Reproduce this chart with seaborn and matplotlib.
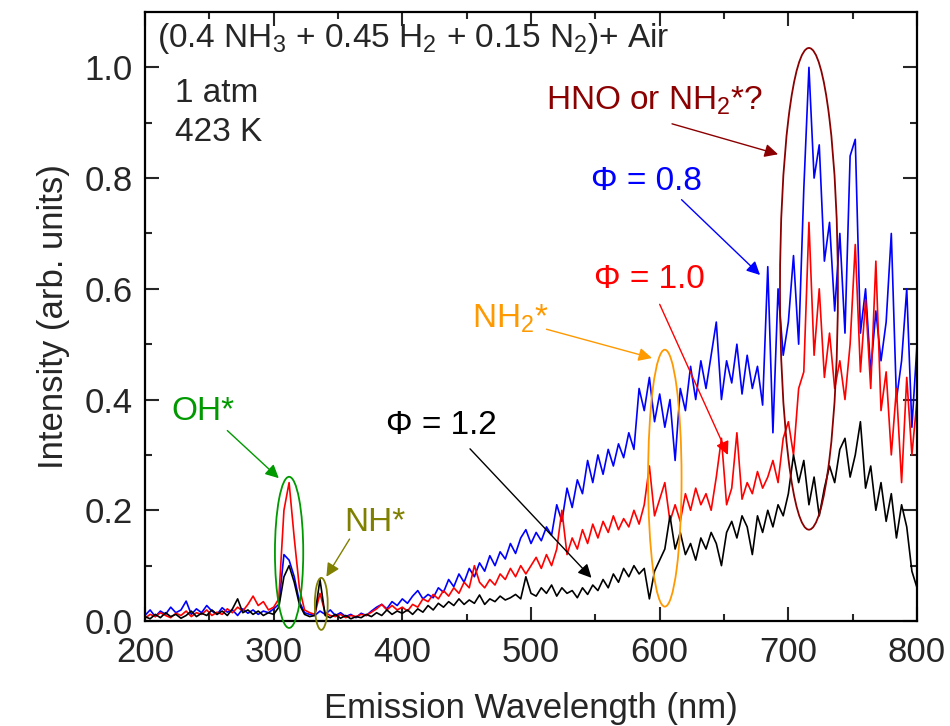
import numpy as np
import pandas as pd
import seaborn as sns
import matplotlib.pyplot as plt
from matplotlib.patches import Ellipse

# wavelength grid (nm), one sample every 4 nm
wavelength = np.arange(200, 801, 4)

# Phi = 0.8 (blue)
phi_08 = [
    0.010, 0.020, 0.008, 0.018, 0.012, 0.025, 0.015, 0.020, 0.036, 0.012,
    0.022, 0.015, 0.028, 0.018, 0.012, 0.024, 0.016, 0.020, 0.010, 0.022,
    0.014, 0.020, 0.012, 0.018, 0.015, 0.022, 0.030, 0.120, 0.110, 0.080,
    0.035, 0.015, 0.012, 0.010, 0.018, 0.012, 0.020, 0.010, 0.015, 0.008,
    0.012, 0.006, 0.014, 0.010, 0.018, 0.025, 0.030, 0.022, 0.035, 0.028,
    0.040, 0.032, 0.045, 0.055, 0.040, 0.048, 0.042, 0.060, 0.052, 0.075,
    0.062, 0.085, 0.070, 0.095, 0.080, 0.105, 0.090, 0.118, 0.100, 0.125,
    0.112, 0.140, 0.122, 0.150, 0.165, 0.140, 0.160, 0.145, 0.170, 0.155,
    0.210, 0.180, 0.240, 0.205, 0.255, 0.230, 0.290, 0.250, 0.300, 0.265,
    0.310, 0.280, 0.320, 0.295, 0.340, 0.310, 0.420, 0.380, 0.440, 0.360,
    0.410, 0.350, 0.400, 0.290, 0.420, 0.380, 0.460, 0.400, 0.470, 0.420,
    0.480, 0.540, 0.400, 0.470, 0.430, 0.500, 0.410, 0.480, 0.420, 0.460,
    0.390, 0.640, 0.340, 0.600, 0.480, 0.540, 0.660, 0.500, 0.780, 1.000,
    0.800, 0.860, 0.650, 0.720, 0.560, 0.700, 0.520, 0.840, 0.870, 0.520,
    0.600, 0.450, 0.560, 0.470, 0.540, 0.700, 0.400, 0.470, 0.600, 0.350,
    0.500,
]

# Phi = 1.0 (red)
phi_10 = [
    0.005, 0.012, 0.008, 0.015, 0.010, 0.006, 0.014, 0.010, 0.018, 0.008,
    0.015, 0.012, 0.020, 0.010, 0.016, 0.012, 0.022, 0.015, 0.025, 0.018,
    0.030, 0.045, 0.028, 0.035, 0.020, 0.025, 0.040, 0.200, 0.250, 0.150,
    0.060, 0.020, 0.015, 0.012, 0.050, 0.015, 0.010, 0.008, 0.012, 0.006,
    0.010, 0.008, 0.012, 0.010, 0.016, 0.022, 0.030, 0.020, 0.028, 0.020,
    0.025, 0.018, 0.030, 0.025, 0.040, 0.035, 0.048, 0.040, 0.055, 0.045,
    0.060, 0.050, 0.070, 0.060, 0.100, 0.070, 0.060, 0.075, 0.065, 0.085,
    0.075, 0.095, 0.080, 0.100, 0.085, 0.100, 0.115, 0.095, 0.120, 0.100,
    0.130, 0.200, 0.120, 0.150, 0.130, 0.165, 0.140, 0.175, 0.150, 0.180,
    0.160, 0.190, 0.165, 0.185, 0.170, 0.200, 0.175, 0.210, 0.280, 0.190,
    0.220, 0.250, 0.180, 0.210, 0.180, 0.230, 0.200, 0.240, 0.210, 0.230,
    0.200, 0.260, 0.330, 0.210, 0.240, 0.340, 0.220, 0.250, 0.230, 0.270,
    0.240, 0.260, 0.290, 0.250, 0.330, 0.360, 0.300, 0.420, 0.450, 0.720,
    0.480, 0.600, 0.440, 0.520, 0.420, 0.470, 0.400, 0.500, 0.680, 0.450,
    0.580, 0.420, 0.650, 0.380, 0.450, 0.300, 0.420, 0.250, 0.440, 0.300,
    0.400,
]

# Phi = 1.2 (black)
phi_12 = [
    0.008, 0.004, 0.012, 0.006, 0.015, 0.008, 0.012, 0.005, 0.010, 0.018,
    0.008, 0.014, 0.010, 0.020, 0.012, 0.018, 0.010, 0.022, 0.040, 0.015,
    0.020, 0.012, 0.018, 0.010, 0.015, 0.012, 0.025, 0.080, 0.100, 0.070,
    0.030, 0.012, 0.008, 0.010, 0.075, 0.010, 0.006, 0.012, 0.005, 0.010,
    0.004, 0.008, 0.006, 0.012, 0.008, 0.015, 0.010, 0.020, 0.012, 0.018,
    0.014, 0.020, 0.012, 0.022, 0.016, 0.028, 0.020, 0.032, 0.025, 0.035,
    0.028, 0.040, 0.030, 0.038, 0.032, 0.047, 0.030, 0.040, 0.035, 0.045,
    0.038, 0.042, 0.048, 0.040, 0.080, 0.050, 0.045, 0.060, 0.050, 0.065,
    0.045, 0.060, 0.050, 0.055, 0.042, 0.060, 0.048, 0.065, 0.055, 0.075,
    0.060, 0.085, 0.070, 0.095, 0.080, 0.100, 0.085, 0.095, 0.040, 0.090,
    0.110, 0.130, 0.190, 0.130, 0.160, 0.120, 0.140, 0.110, 0.150, 0.130,
    0.160, 0.140, 0.100, 0.160, 0.180, 0.150, 0.190, 0.170, 0.120, 0.190,
    0.160, 0.200, 0.170, 0.210, 0.190, 0.230, 0.300, 0.250, 0.290, 0.210,
    0.260, 0.190, 0.240, 0.280, 0.250, 0.310, 0.330, 0.260, 0.300, 0.360,
    0.240, 0.280, 0.200, 0.250, 0.180, 0.230, 0.150, 0.210, 0.170, 0.090,
    0.060,
]

series_names = ["0.8", "1.0", "1.2"]
series_colors = ["#0000FF", "#FF0000", "#000000"]

df = pd.concat([
    pd.DataFrame({"wavelength": wavelength, "intensity": vals, "phi": name})
    for name, vals in zip(series_names, [phi_08, phi_10, phi_12])
])

sns.set_theme(style="ticks")
plt.rcParams["font.family"] = ["Liberation Sans", "DejaVu Sans"]
plt.rcParams["mathtext.fontset"] = "custom"
plt.rcParams["mathtext.rm"] = "Liberation Sans"
plt.rcParams["mathtext.it"] = "Liberation Sans:italic"

fig = plt.figure(figsize=(9.5, 7.26), dpi=100)
ax = fig.add_axes([0.1526, 0.1446, 0.8127, 0.8389])

sns.lineplot(data=df, x="wavelength", y="intensity", hue="phi",
             hue_order=series_names, palette=dict(zip(series_names, series_colors)),
             estimator=None, lw=1.2, legend=False, ax=ax)

ax.set_xlim(200, 800)
ax.set_ylim(0, 1.1)
ax.set_xticks(np.arange(200, 801, 100))
ax.set_xticks(np.arange(250, 800, 100), minor=True)
ax.set_yticks(np.arange(0, 1.01, 0.2))
ax.set_yticks(np.arange(0.1, 1.1, 0.2), minor=True)
ax.set_yticklabels([f"{v:.1f}" for v in np.arange(0, 1.01, 0.2)])
ax.tick_params(which="both", direction="in", top=True, right=True,
               labelsize=25, width=1.5)
ax.tick_params(which="major", length=10)
ax.tick_params(axis="x", which="major", pad=11)
ax.tick_params(axis="y", which="major", pad=9)
ax.tick_params(which="minor", length=5)
for s in ax.spines.values():
    s.set_linewidth(1.6)
    s.set_color("black")

ax.set_xlabel("Emission Wavelength (nm)", fontsize=25, labelpad=16)
ax.set_ylabel("Intensity (arb. units)", fontsize=25, labelpad=10)

fs = 24
ax.text(209, 1.053, r"(0.4 NH$_3$ + 0.45 H$_2$ + 0.15 N$_2$)+ Air",
        fontsize=fs, va="center")
ax.text(223, 0.953, "1 atm", fontsize=fs, va="center")
ax.text(223, 0.882, "423 K", fontsize=fs, va="center")

dark_red = "#8B0000"
orange = "#FF9900"
green = "#009900"
olive = "#808000"

labels = [
    (r"HNO or NH$_2$*?", 596, 0.94, dark_red),
    ("Φ = 0.8", 590, 0.794, "#0000FF"),
    ("Φ = 1.0", 592, 0.616, "#FF0000"),
    (r"NH$_2$*", 484, 0.545, orange),
    ("OH*", 245, 0.379, green),
    ("NH*", 379, 0.178, olive),
    ("Φ = 1.2", 430, 0.353, "#000000"),
]
for txt, x, y, c in labels:
    ax.text(x, y, txt, color=c, fontsize=fs, ha="center", va="center")

arrows = [
    ((609.6, 0.898), (692, 0.843), dark_red),
    ((617, 0.761), (678, 0.625), "#0000FF"),
    ((600, 0.572), (653, 0.300), "#FF0000"),
    ((512, 0.527), (594, 0.475), orange),
    ((264, 0.344), (304, 0.258), green),
    ((359, 0.148), (341, 0.080), olive),
    ((452.6, 0.311), (547, 0.078), "#000000"),
]
for start, end, c in arrows:
    ax.annotate("", xy=end, xytext=start,
                arrowprops=dict(arrowstyle="-|>", color=c, lw=1,
                                mutation_scale=20, shrinkA=0, shrinkB=0))

ellipses = [
    ((716, 0.600), 45, 0.870, dark_red),
    ((604, 0.258), 26, 0.464, orange),
    ((312, 0.124), 22, 0.273, green),
    ((337, 0.031), 10, 0.094, olive),
]
for center, w, h, c in ellipses:
    ax.add_patch(Ellipse(center, w, h, fill=False, edgecolor=c, lw=1.3,
                         clip_on=False, zorder=5))

fig.savefig("out.png", dpi=100)
